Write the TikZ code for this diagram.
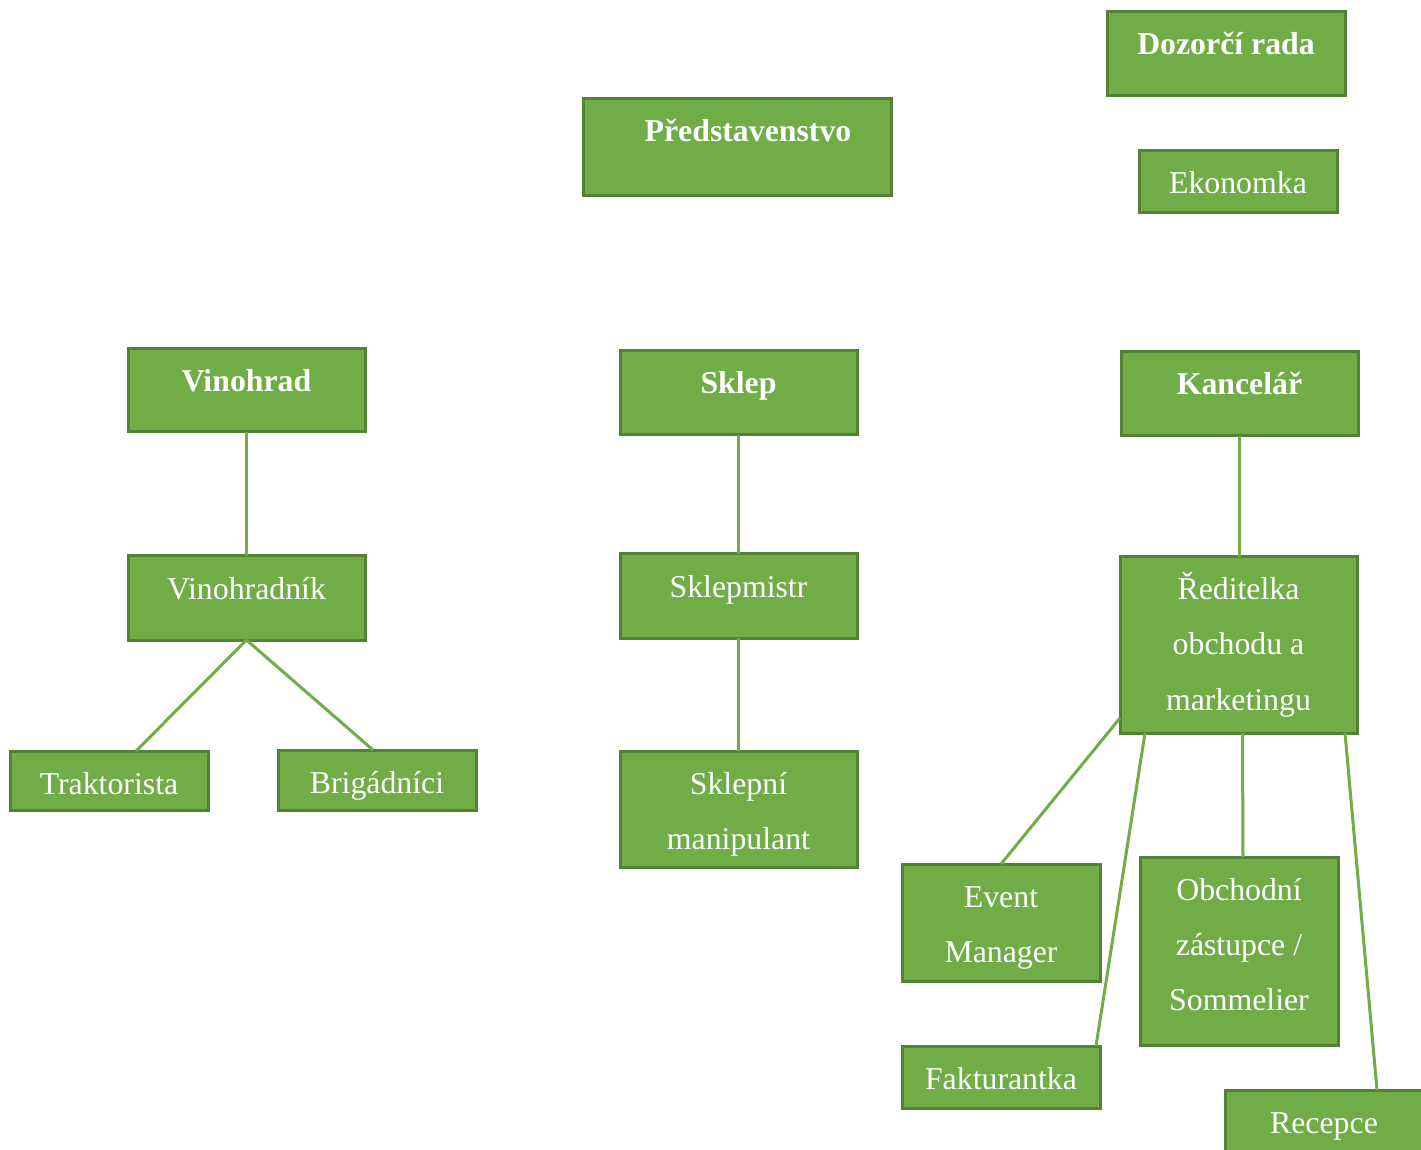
\documentclass[tikz,border=0pt]{standalone}
\usepackage{fontspec}
\setmainfont{Liberation Serif}
\usetikzlibrary{calc}
\definecolor{boxgreen}{HTML}{70AD47}
\definecolor{edgegreen}{HTML}{538135}
\begin{document}
\begin{tikzpicture}[x=0.5pt, y=-0.5pt, font=\fontsize{15.9pt}{27.5pt}\selectfont,
	box/.style={draw=edgegreen, fill=boxgreen, text=white, line width=1.5pt, anchor=north west,
		inner sep=0pt, outer sep=0pt, align=flush center, text height=21.5pt},
	wide/.style={text width=118.5pt},
	narrow/.style={text width=99pt},
	head/.style={font=\fontsize{15.9pt}{27.5pt}\selectfont\bfseries},
	link/.style={draw=boxgreen, line width=1.5pt}]
	\useasboundingbox (0,0) rectangle (1421,1150);
	% vedeni
	\node[box, head, text width=119pt, text depth=20.5pt] (dozorci) at (1107,12) {Dozorčí rada};
	\node[box, head, text width=154pt, text depth=27pt] (predstavenstvo) at (583,99) {\hspace*{11pt}Představenstvo};
	\node[box, narrow, text depth=9.5pt] (ekonomka) at (1139,151) {Ekonomka};
	% useky
	\node[box, head, wide, text depth=20pt] (vinohrad) at (128,349) {Vinohrad};
	\node[box, head, wide, text depth=20.5pt] (sklep) at (620,351) {Sklep};
	\node[box, head, wide, text depth=20.5pt] (kancelar) at (1121,352) {Kancelář};
	% vedouci
	\node[box, wide, text depth=20.5pt] (vinohradnik) at (128,556) {Vinohradník};
	\node[box, wide, text depth=20.5pt] (sklepmistr) at (620,554) {Sklepmistr};
	\node[box, wide, text depth=66.5pt] (reditelka) at (1120,557) {Ředitelka\\obchodu a\\marketingu};
	% pracovnici
	\node[box, narrow, text depth=8pt] (traktorista) at (10,751) {Traktorista};
	\node[box, narrow, text depth=8.5pt] (brigadnici) at (278,750) {Brigádníci};
	\node[box, wide, text depth=36.5pt] (manipulant) at (620,751) {Sklepní\\manipulant};
	\node[box, narrow, text depth=37pt] (event) at (902,864) {Event\\Manager};
	\node[box, narrow, text depth=72.5pt] (obchodni) at (1140,857) {Obchodní\\zástupce /\\Sommelier};
	\node[box, narrow, text depth=9.5pt] (fakturantka) at (902,1046) {Fakturantka};
	\node[box, narrow, text depth=9pt] (recepce) at (1225,1090) {Recepce};
	% spojnice
	\draw[link] (vinohrad.south) -- (vinohradnik.north);
	\draw[link] (vinohradnik.south) -- ($(traktorista.north west)+(126,0)$);
	\draw[link] (vinohradnik.south) -- ($(brigadnici.north west)+(95,0)$);
	\draw[link] (sklep.south) -- (sklepmistr.north);
	\draw[link] (sklepmistr.south) -- (manipulant.north);
	\draw[link] (kancelar.south) -- (kancelar.south |- reditelka.north);
	\draw[link] ($(reditelka.north west)+(0,161)$) -- (event.north);
	\draw[link] ($(reditelka.south west)+(25,0)$) -- ($(fakturantka.north east)+(-4,0)$);
	\draw[link] ($(reditelka.south)+(4,0)$) -- ($(obchodni.north)+(4,0)$);
	\draw[link] ($(reditelka.south east)+(-12,0)$) -- ($(recepce.north west)+(152,0)$);
\end{tikzpicture}
\end{document}
